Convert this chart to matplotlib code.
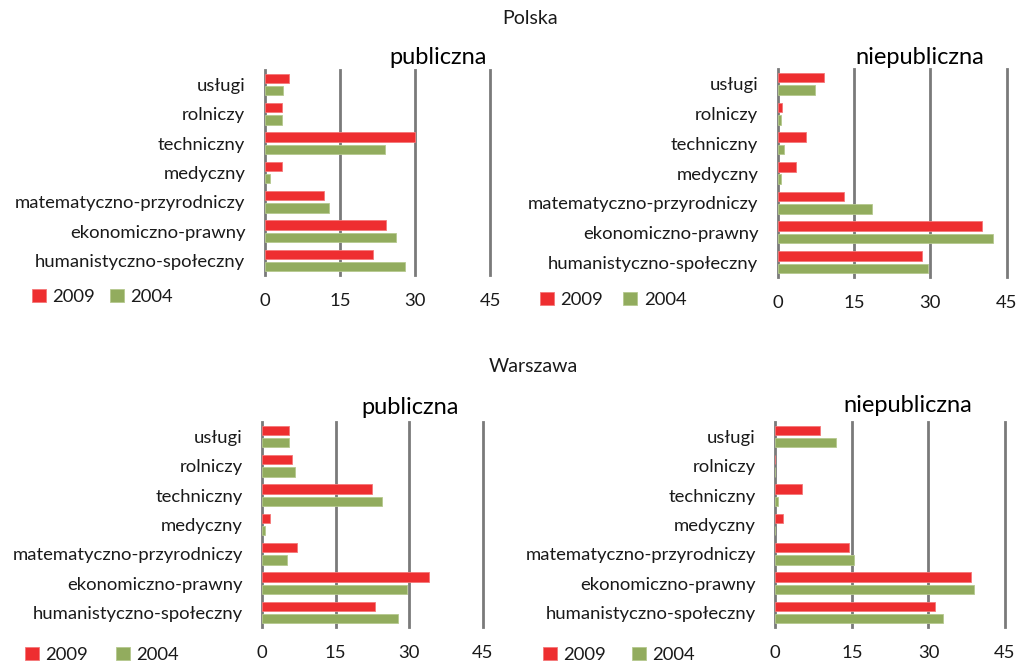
import matplotlib
matplotlib.use("Agg")
import matplotlib.pyplot as plt
import numpy as np

plt.rcParams['font.family'] = ['Lato', 'DejaVu Sans']

categories = ["humanistyczno-społeczny", "ekonomiczno-prawny", "matematyczno-przyrodniczy",
              "medyczny", "techniczny", "rolniczy", "usługi"]

# values in order of categories (bottom to top)
pl_pub_2009 = [21.7, 24.2, 11.9, 3.5, 30.0, 3.4, 4.8]
pl_pub_2004 = [28.1, 26.3, 12.8, 1.1, 24.1, 3.5, 3.7]
pl_npub_2009 = [28.3, 40.1, 13.1, 3.5, 5.5, 0.8, 9.0]
pl_npub_2004 = [29.5, 42.4, 18.5, 0.6, 1.2, 0.6, 7.3]
wa_pub_2009 = [23.0, 34.0, 7.0, 1.6, 22.3, 6.1, 5.4]
wa_pub_2004 = [27.8, 29.5, 5.0, 0.5, 24.4, 6.6, 5.5]
wa_npub_2009 = [31.2, 38.4, 14.4, 1.5, 5.3, 0.0, 8.7]
wa_npub_2004 = [32.9, 39.0, 15.4, 0.0, 0.5, 0.0, 11.9]

x_ticks = [0, 15, 30, 45]
series_labels = ["2009", "2004"]
group_titles = ["Polska", "Warszawa"]
panel_titles = ["publiczna", "niepubliczna"]

RED = '#EE2E30'
GREEN = '#92AC5E'
GRID = '#7A7A7A'
TXT = '#1a1a1a'

W, H = 1017, 664
fig = plt.figure(figsize=(W / 100, H / 100), dpi=100)


def px_axes(x0, x45, ytop, ybot):
    return fig.add_axes([x0 / W, 1 - ybot / H, (x45 - x0) / W, (ybot - ytop) / H])


panels = [
    (px_axes(264.7, 490.0, 70, 275), pl_pub_2009, pl_pub_2004, (32, 297), 0.8),
    (px_axes(777.7, 1006.7, 69, 277), pl_npub_2009, pl_npub_2004, (540, 300), 1.1),
    (px_axes(262.3, 482.7, 422, 627), wa_pub_2009, wa_pub_2004, (25, 655), 1.5),
    (px_axes(775.3, 1005.0, 422, 627), wa_npub_2009, wa_npub_2004, (543, 655), 1.4),
]

y = np.arange(len(categories))
bh = 0.32
off = 0.21
for ax, v09, v04, leg, colsp in panels:
    b1 = ax.barh(y + off, v09, height=bh, color=RED, edgecolor='#F47878', linewidth=0.6, zorder=3)
    b2 = ax.barh(y - off, v04, height=bh, color=GREEN, edgecolor='#B5C98E', linewidth=0.6, zorder=3)
    ax.set_xlim(0, 45)
    ax.set_ylim(-0.5, len(categories) - 0.5)
    ax.set_xticks(x_ticks)
    ax.set_yticks(y)
    ax.set_yticklabels(categories, fontsize=13.3, color=TXT)
    ax.tick_params(axis='y', length=0, pad=14)
    ax.tick_params(axis='x', length=0, pad=13, labelsize=13.3, labelcolor=TXT)
    for s in ['top', 'right', 'bottom']:
        ax.spines[s].set_visible(False)
    ax.spines['left'].set_color(GRID)
    ax.spines['left'].set_linewidth(2)
    for xv in x_ticks[1:]:
        ax.axvline(xv, color=GRID, lw=2, zorder=1, clip_on=False)
    ax.legend([b1, b2], series_labels, loc='center left',
              bbox_to_anchor=(leg[0] / W, 1 - leg[1] / H), bbox_transform=fig.transFigure,
              ncol=2, frameon=False, fontsize=13.3, handlelength=0.75, handleheight=0.75,
              handletextpad=0.35, columnspacing=colsp, borderpad=0, borderaxespad=0,
              labelcolor=TXT)

fig.text(530 / W, 1 - 19 / H, group_titles[0], ha='center', va='center', fontsize=14, color=TXT)
fig.text(533 / W, 1 - 367 / H, group_titles[1], ha='center', va='center', fontsize=14, color=TXT)
fig.text(438 / W, 1 - 57 / H, panel_titles[0], ha='center', va='center', fontsize=17, color='black')
fig.text(920 / W, 1 - 57 / H, panel_titles[1], ha='center', va='center', fontsize=17, color='black')
fig.text(410 / W, 1 - 408 / H, panel_titles[0], ha='center', va='center', fontsize=17, color='black')
fig.text(908 / W, 1 - 405 / H, panel_titles[1], ha='center', va='center', fontsize=17, color='black')

fig.savefig('out.png', dpi=100)
